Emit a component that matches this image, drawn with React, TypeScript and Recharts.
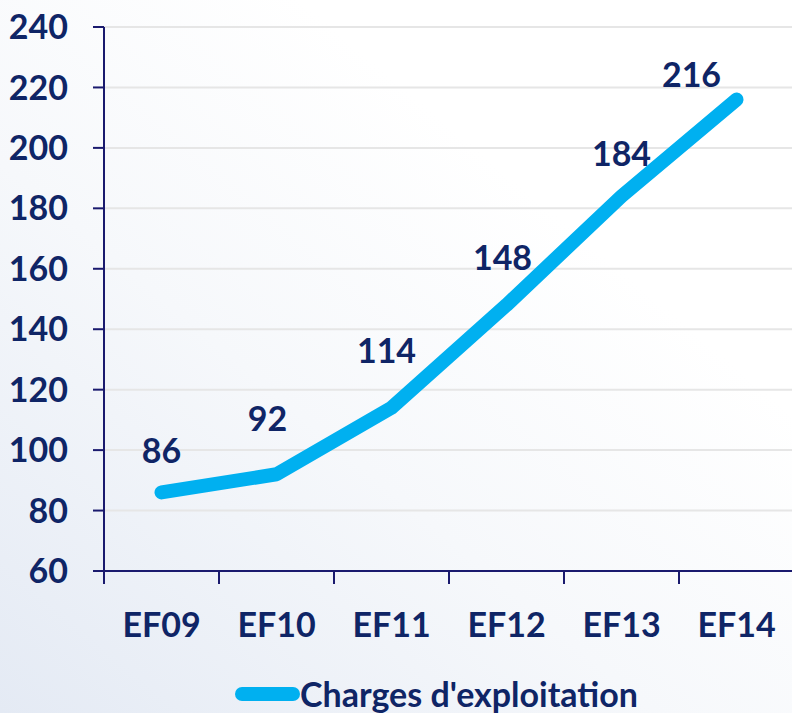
import React from 'react';
import { LineChart, Line, XAxis, YAxis, CartesianGrid, Legend, LabelList } from 'recharts';

const categories = ['EF09', 'EF10', 'EF11', 'EF12', 'EF13', 'EF14'];
const charges = [86, 92, 114, 148, 184, 216];
const yTicks = [60, 80, 100, 120, 140, 160, 180, 200, 220, 240];
const seriesName = "Charges d'exploitation";

// label placement tweaks (layout, not data)
const labelShift = [
  { dx: 0, dy: -43 },
  { dx: -9, dy: -57 },
  { dx: -5, dy: -58 },
  { dx: -4, dy: -49 },
  { dx: 0, dy: -44 },
  { dx: -45, dy: -26 },
];

const data = categories.map((c, i) => ({ pos: i + 0.5, name: c, value: charges[i] }));
const centerTicks = categories.map((_, i) => i + 0.5);
const boundaryTicks = categories.map((_, i) => i).concat([categories.length]);

const NAVY = '#0F2566';
const AXIS = '#1A1A6E';
const FONT = 'Lato, "Open Sans", sans-serif';
const FS = 34;

const renderLabel = (props: any) => {
  const { x, y, value, index } = props;
  const s = labelShift[index] || { dx: 0, dy: -40 };
  return (
    <text
      x={x + s.dx}
      y={y + s.dy}
      textAnchor="middle"
      dominantBaseline="central"
      fill={NAVY}
      fontFamily={FONT}
      fontWeight={700}
      fontSize={FS}
    >
      {value}
    </text>
  );
};

const renderLegend = () => (
  <div style={{ display: 'flex', alignItems: 'center', fontFamily: FONT, fontWeight: 700, fontSize: FS, color: NAVY, lineHeight: 1, whiteSpace: 'nowrap' }}>
    <svg width={65} height={16}>
      <line x1={7} y1={8} x2={58} y2={8} stroke="#00B0F0" strokeWidth={14} strokeLinecap="round" />
    </svg>
    <span>{seriesName}</span>
  </div>
);

const EmptyTick = () => <g />;

export default function App() {
  return (
    <div
      style={{
        position: 'fixed',
        left: 0,
        top: 0,
        width: 792,
        height: 713,
        overflow: 'hidden',
        background: 'linear-gradient(40deg, #E4EAF4 0%, #F6F8FB 40%, #FFFFFF 70%)',
      }}
    >
      <LineChart width={800} height={713} data={data} margin={{ top: 27, right: 6, bottom: 81, left: 0 }}>
        <CartesianGrid horizontal vertical={false} stroke="#E6E6E6" strokeWidth={2} />
        <XAxis
          xAxisId={0}
          type="number"
          dataKey="pos"
          domain={[0, categories.length]}
          ticks={boundaryTicks}
          interval={0}
          height={1}
          tickSize={13}
          tickMargin={0}
          tick={<EmptyTick />}
          tickLine={{ stroke: AXIS, strokeWidth: 2 }}
          axisLine={{ stroke: AXIS, strokeWidth: 2 }}
        />
        <XAxis
          xAxisId="lab"
          type="number"
          dataKey="pos"
          domain={[0, categories.length]}
          ticks={centerTicks}
          interval={0}
          height={60}
          tickSize={0}
          tickMargin={41}
          axisLine={false}
          tickLine={false}
          tickFormatter={(v: number) => categories[Math.floor(v)]}
          tick={{ fill: NAVY, fontFamily: FONT, fontWeight: 700, fontSize: FS }}
        />
        <YAxis
          type="number"
          domain={[60, 240]}
          ticks={yTicks}
          interval={0}
          width={104}
          tickSize={11}
          tickMargin={25}
          tickLine={{ stroke: AXIS, strokeWidth: 2 }}
          axisLine={{ stroke: AXIS, strokeWidth: 2 }}
          tick={{ fill: NAVY, fontFamily: FONT, fontWeight: 700, fontSize: FS }}
        />
        <Legend
          verticalAlign="middle"
          align="center"
          content={renderLegend}
          wrapperStyle={{ top: 677, left: 235, width: 'auto' }}
        />
        <Line
          xAxisId="lab"
          type="linear"
          dataKey="value"
          name={seriesName}
          stroke="#00B0F0"
          strokeWidth={14}
          strokeLinecap="round"
          strokeLinejoin="round"
          dot={false}
          activeDot={false}
          isAnimationActive={false}
        >
          <LabelList dataKey="value" content={renderLabel} />
        </Line>
      </LineChart>
    </div>
  );
}
